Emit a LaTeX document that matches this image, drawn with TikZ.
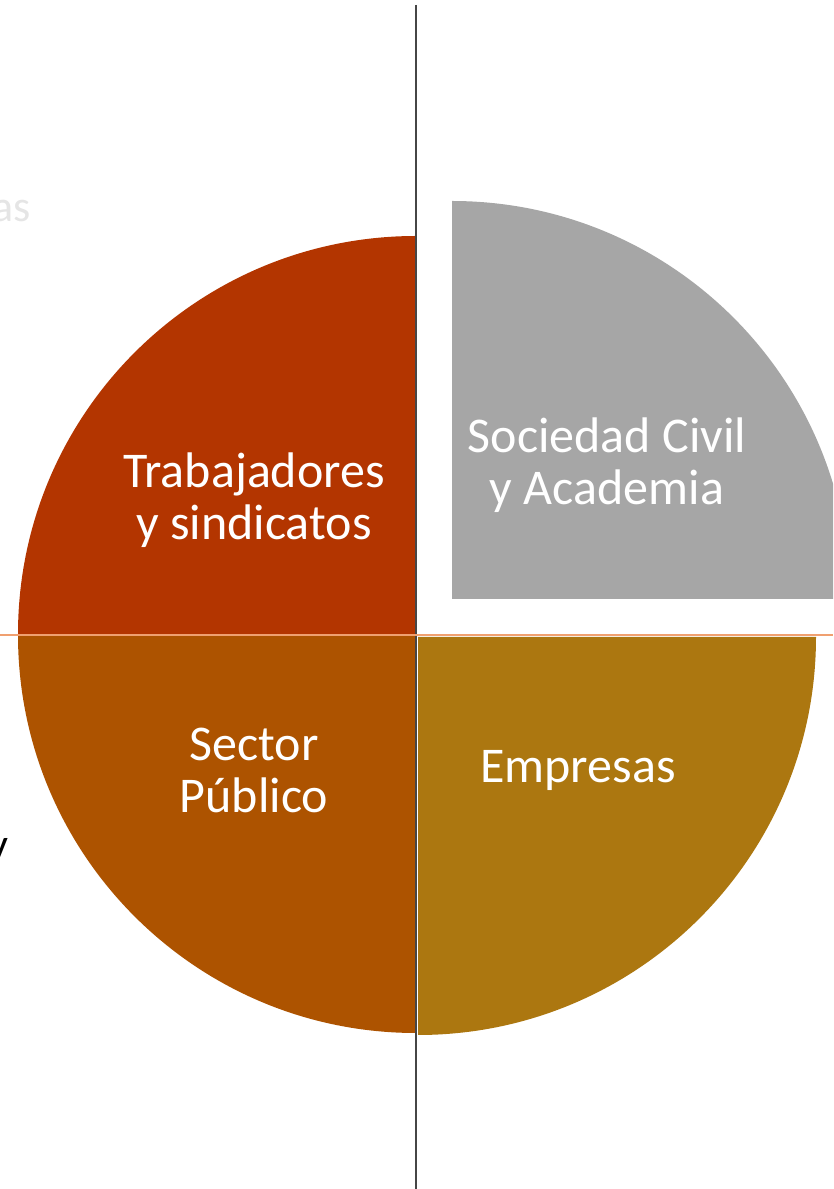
\documentclass[tikz,border=0pt]{standalone}
\usepackage{fontspec}
\setmainfont{Carlito}
\definecolor{trabred}{HTML}{B33500}
\definecolor{sectorbrown}{HTML}{AD5300}
\definecolor{empgold}{HTML}{AC7710}
\definecolor{civgrey}{HTML}{A6A6A6}
\definecolor{axisgrey}{HTML}{464646}
\definecolor{axisorange}{HTML}{F0A070}
\begin{document}
\begin{tikzpicture}[x=1pt, y=1pt,
    label/.style={text=white, align=center, font=\fontsize{50}{52}\selectfont},
    ghost/.style={font=\fontsize{44}{48}\selectfont}]
    \clip (0, 0) rectangle (833, 1189);
    \useasboundingbox (0, 0) rectangle (833, 1189);
        % quadrants
        \fill[trabred] (416, 555) -- (18, 555) arc[start angle=180, end angle=90, radius=398] -- cycle;
        \fill[sectorbrown] (416, 554) -- (416, 156) arc[start angle=270, end angle=180, radius=398] -- cycle;
        \fill[empgold] (418, 552) -- (816, 552) arc[start angle=0, end angle=-90, radius=398] -- cycle;
        \fill[civgrey] (452, 590) -- (452, 988) arc[start angle=90, end angle=0, radius=398] -- cycle;
        % axes
        \coordinate (top) at (416, 1184);
        \coordinate (bottom) at (416, 0);
        \coordinate (left) at (0, 554);
        \coordinate (right) at (833, 554);
        \draw[axisgrey, line width=2] (top) -- (bottom);
        \draw[axisorange, line width=2.5] (left) -- (right);
        % labels
        \node[label] (trab) at (254, 689) {Trabajadores\\y sindicatos};
        \node[label] (civil) at (607, 724) {Sociedad Civil\\y Academia};
        \node[label] (sector) at (254, 419) {Sector\\Público};
        \node[label] (emp) at (578, 419) {Empresas};
        % cut-off texts at the left edge
        \node[ghost, text=black!10, anchor=base east, inner sep=0] (as) at (31, 967) {as};
        \node[ghost, text=black, anchor=base east, inner sep=0] (yy) at (9, 329) {y};
    \end{tikzpicture}
\end{document}
